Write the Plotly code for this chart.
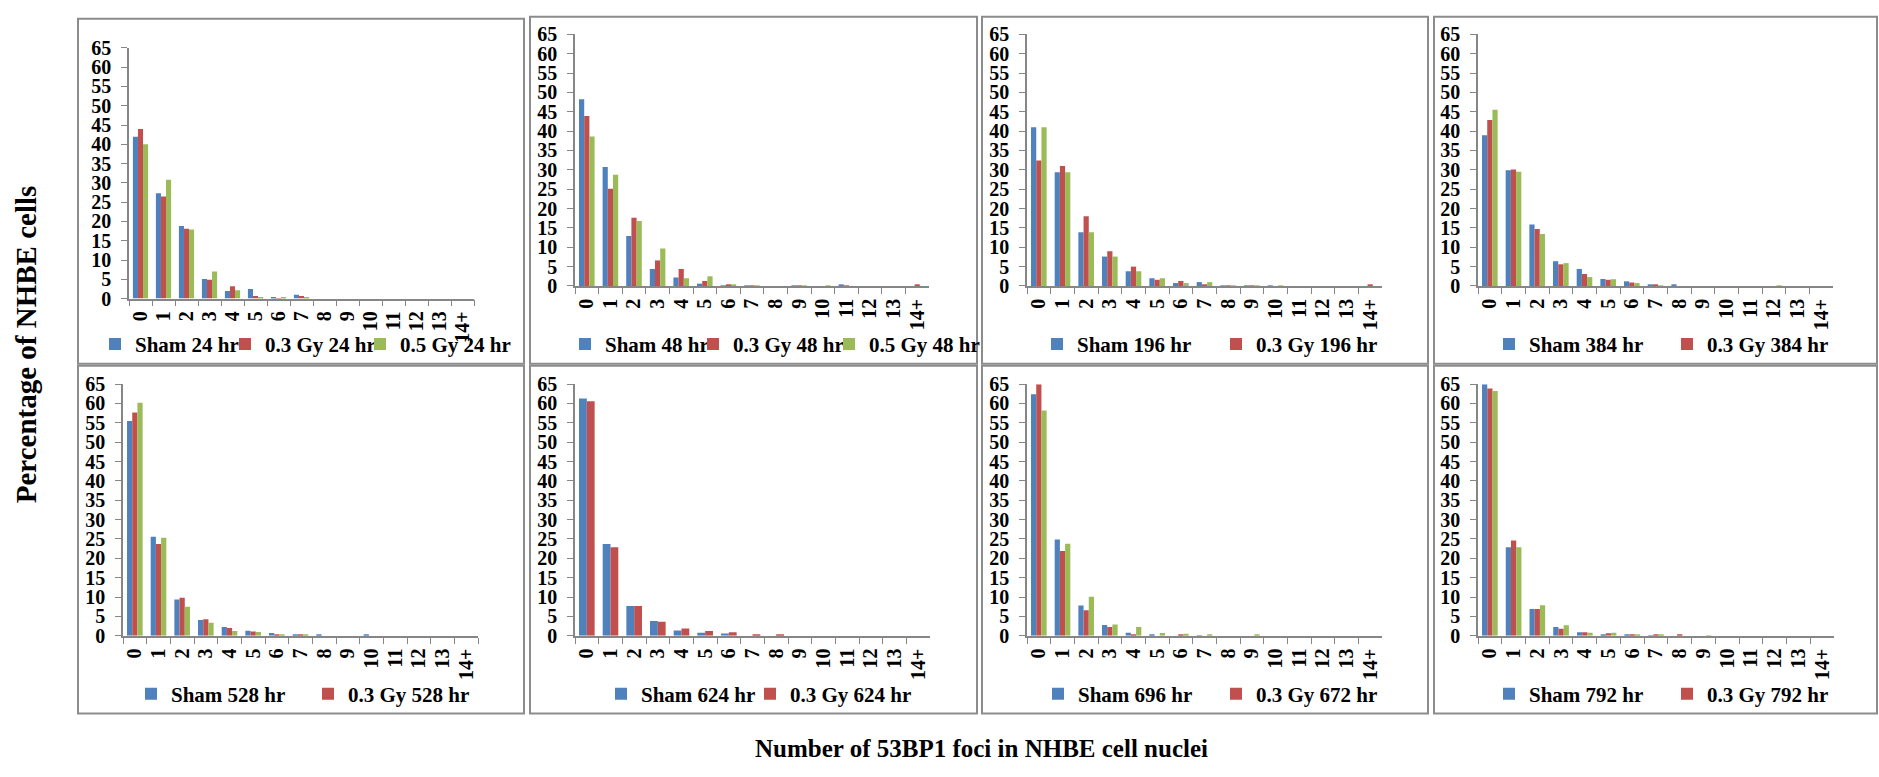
import plotly.graph_objects as go

# Foci-count bins shared by every panel
foci_bins = ["0", "1", "2", "3", "4", "5", "6", "7", "8", "9", "10", "11", "12", "13", "14+"]

# Percentage of NHBE cells per bin, one list per series
sham_24 = [42.0, 27.3, 18.8, 5.1, 2.0, 2.5, 0.35, 1.0, 0, 0, 0, 0, 0, 0, 0]
gy03_24 = [44.0, 26.5, 18.1, 4.9, 3.2, 0.7, 0.1, 0.7, 0, 0, 0, 0, 0, 0, 0]
gy05_24 = [40.0, 30.8, 17.9, 7.0, 2.2, 0.25, 0.3, 0.25, 0, 0, 0, 0, 0, 0, 0]

sham_48 = [48.2, 30.7, 12.9, 4.4, 2.2, 0.6, 0.1, 0.15, 0, 0.1, 0, 0.3, 0, 0, 0]
gy03_48 = [43.9, 25.1, 17.6, 6.6, 4.4, 1.3, 0.4, 0.15, 0, 0.1, 0, 0.15, 0, 0, 0.2]
gy05_48 = [38.6, 28.7, 16.8, 9.7, 2.0, 2.5, 0.4, 0.15, 0, 0.1, 0.1, 0, 0, 0, 0]

sham_196 = [41.0, 29.4, 13.9, 7.6, 3.8, 2.0, 0.75, 1.0, 0.1, 0.1, 0.1, 0, 0, 0, 0]
gy03_196 = [32.4, 31.0, 18.0, 9.0, 5.0, 1.6, 1.3, 0.3, 0.1, 0.1, 0, 0, 0, 0, 0.2]
s3_196 = [41.0, 29.4, 13.9, 7.6, 3.8, 2.0, 0.75, 1.0, 0.1, 0.1, 0.1, 0, 0, 0, 0]

sham_384 = [38.9, 29.9, 15.9, 6.4, 4.4, 1.8, 1.2, 0.3, 0.2, 0, 0, 0, 0, 0, 0]
gy03_384 = [42.9, 30.1, 14.7, 5.6, 3.1, 1.6, 0.9, 0.3, 0, 0, 0, 0, 0, 0, 0]
s3_384 = [45.5, 29.5, 13.4, 5.9, 2.3, 1.75, 0.75, 0.15, 0, 0, 0, 0, 0.1, 0, 0]

sham_528 = [55.5, 25.6, 9.4, 4.1, 2.3, 1.3, 0.75, 0.4, 0.25, 0, 0.2, 0, 0, 0, 0]
gy03_528 = [57.7, 23.7, 9.8, 4.3, 2.0, 1.1, 0.35, 0.3, 0, 0, 0, 0, 0, 0, 0]
s3_528 = [60.2, 25.3, 7.5, 3.4, 1.25, 1.0, 0.3, 0.3, 0, 0, 0, 0, 0, 0, 0]

sham_624 = [61.3, 23.7, 7.7, 3.8, 1.4, 0.8, 0.6, 0, 0, 0, 0, 0, 0, 0, 0]
gy03_624 = [60.6, 22.9, 7.7, 3.6, 1.9, 1.25, 0.9, 0.3, 0.3, 0, 0, 0, 0, 0, 0]

sham_696 = [62.4, 24.9, 7.8, 2.8, 0.8, 0.2, 0, 0.15, 0, 0, 0, 0, 0, 0, 0]
gy03_672 = [65.0, 21.9, 6.6, 2.3, 0.4, 0, 0.2, 0, 0, 0, 0, 0, 0, 0, 0]
s3_672 = [58.2, 23.8, 10.1, 2.9, 2.3, 0.75, 0.5, 0.2, 0, 0.3, 0, 0, 0, 0, 0]

sham_792 = [65.0, 22.9, 6.9, 2.3, 0.9, 0.4, 0.3, 0.15, 0, 0, 0, 0, 0, 0, 0]
gy03_792 = [63.9, 24.6, 6.9, 1.8, 0.9, 0.65, 0.3, 0.2, 0.2, 0, 0, 0, 0, 0, 0]
s3_792 = [63.2, 22.9, 7.9, 2.7, 0.8, 0.8, 0.4, 0.2, 0, 0.1, 0, 0, 0, 0, 0]

# (series name, values, shown in legend)
panels = [
    [("Sham 24 hr", sham_24, True), ("0.3 Gy 24 hr", gy03_24, True), ("0.5 Gy 24 hr", gy05_24, True)],
    [("Sham 48 hr", sham_48, True), ("0.3 Gy 48 hr", gy03_48, True), ("0.5 Gy 48 hr", gy05_48, True)],
    [("Sham 196 hr", sham_196, True), ("0.3 Gy 196 hr", gy03_196, True), ("Series 3", s3_196, False)],
    [("Sham 384 hr", sham_384, True), ("0.3 Gy 384 hr", gy03_384, True), ("Series 3", s3_384, False)],
    [("Sham 528 hr", sham_528, True), ("0.3 Gy 528 hr", gy03_528, True), ("Series 3", s3_528, False)],
    [("Sham 624 hr", sham_624, True), ("0.3 Gy 624 hr", gy03_624, True)],
    [("Sham 696 hr", sham_696, True), ("0.3 Gy 672 hr", gy03_672, True), ("Series 3", s3_672, False)],
    [("Sham 792 hr", sham_792, True), ("0.3 Gy 792 hr", gy03_792, True), ("Series 3", s3_792, False)],
]

colors = ["#4F81BD", "#C0504D", "#9BBB59"]

W, H = 1879, 777
FONT = "Liberation Serif"
AXIS_GREY = "#868686"

# Pixel layout: plot area (x0, x1, y_bottom, y_top) and frame box of each panel
plot_px = [
    (129, 474, 296, 38), (575, 929, 283, 24), (1027, 1382, 283, 24), (1478, 1833, 283, 24),
    (123, 478, 643, 384), (575, 930, 643, 384), (1027, 1382, 643, 384), (1478, 1834, 643, 384),
]
frame_px = [
    (78, 524, 8, 363), (530, 977, 6, 363), (982, 1428, 6, 363), (1434, 1877, 6, 363),
    (78, 524, 365, 723), (530, 977, 365, 723), (982, 1428, 365, 723), (1434, 1877, 365, 723),
]
# Legend row of each panel: centre y and the symbol centre x of each entry
legend_rows = [
    (343, [116, 246, 381]), (343, [586, 714, 850]), (343, [1058, 1237]), (343, [1510, 1688]),
    (703, [152, 329]), (703, [622, 771]), (703, [1059, 1237]), (703, [1510, 1688]),
]

SYMBOL_OFFSET = 21

fig = go.Figure()
layout = dict(
    width=W, height=H,
    margin=dict(l=0, r=0, t=0, b=0),
    paper_bgcolor="white", plot_bgcolor="white",
    barmode="group", bargap=0.34, bargroupgap=0.0,
    showlegend=True,
    font=dict(family=FONT, color="black"),
)

legend_count = 0
for i, series in enumerate(panels):
    k = "" if i == 0 else str(i + 1)
    ly, lxs = legend_rows[i]
    for j, (name, vals, show) in enumerate(series):
        trace_kw = {}
        if show:
            legend_count += 1
            leg = "legend" if legend_count == 1 else "legend%d" % legend_count
            trace_kw["legend"] = leg
            layout[leg] = dict(
                orientation="h", x=(lxs[j] - SYMBOL_OFFSET) / W, xanchor="left",
                y=1 - ly / H, yanchor="middle",
                itemwidth=30, bgcolor="rgba(0,0,0,0)", borderwidth=0,
                font=dict(family=FONT, size=21, color="black", weight="bold"),
                itemclick=False, itemdoubleclick=False,
            )
        fig.add_trace(go.Bar(
            x=foci_bins, y=vals, name=name,
            marker=dict(color=colors[j], line=dict(width=0)),
            xaxis="x" + k, yaxis="y" + k,
            showlegend=show, **trace_kw,
        ))
    x0, x1, yb, yt = plot_px[i]
    layout["xaxis" + k] = dict(
        domain=[x0 / W, x1 / W], anchor="y" + k,
        type="category", categoryorder="array", categoryarray=foci_bins,
        tickmode="linear", tick0=0, dtick=1,
        tickson="boundaries", ticks="outside", ticklen=6, tickcolor=AXIS_GREY,
        showline=True, linecolor=AXIS_GREY, linewidth=1.5,
        showgrid=False, zeroline=False, tickangle=-90,
        tickfont=dict(family=FONT, size=20, color="black", weight="bold"),
        ticklabelstandoff=3, fixedrange=True,
    )
    layout["yaxis" + k] = dict(
        domain=[1 - yb / H, 1 - yt / H], anchor="x" + k,
        range=[0, 65], dtick=5, tick0=0,
        ticks="outside", ticklen=6, tickcolor=AXIS_GREY,
        showline=True, linecolor=AXIS_GREY, linewidth=1.5,
        showgrid=False, zeroline=False,
        tickfont=dict(family=FONT, size=20, color="black", weight="bold"),
        ticklabelstandoff=6, fixedrange=True,
    )

# Panel frames
shapes = []
for (fx0, fx1, fy0, fy1) in frame_px:
    shapes.append(dict(
        type="rect", xref="paper", yref="paper",
        x0=fx0 / W, x1=fx1 / W, y0=1 - fy1 / H, y1=1 - fy0 / H,
        line=dict(color="#8C8C8C", width=2), fillcolor="rgba(0,0,0,0)", layer="below",
    ))
layout["shapes"] = shapes

layout["annotations"] = [
    dict(text="Percentage of NHBE cells", xref="paper", yref="paper",
         x=26 / W, y=1 - 343 / H, xanchor="center", yanchor="middle",
         textangle=-90, showarrow=False,
         font=dict(family=FONT, size=29, color="black", weight="bold")),
    dict(text="Number of 53BP1 foci in NHBE cell nuclei", xref="paper", yref="paper",
         x=981 / W, y=1 - 759 / H, xanchor="center", yanchor="middle",
         showarrow=False,
         font=dict(family=FONT, size=25, color="black", weight="bold")),
]

fig.update_layout(**layout)
fig.write_html("out.html", config={"displayModeBar": False})
